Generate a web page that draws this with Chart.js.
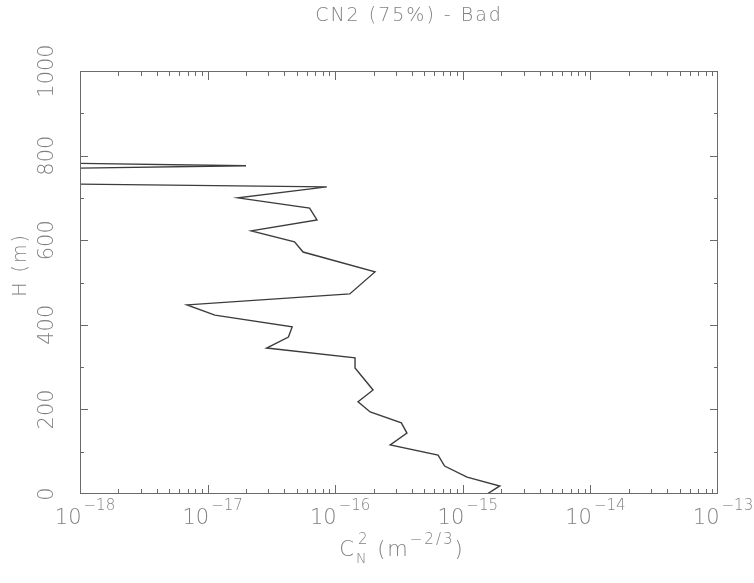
<!DOCTYPE html>
<html>
<head>
<meta charset="utf-8">
<style>
  html, body { margin: 0; padding: 0; background: #fff; }
  #wrap { width: 754px; height: 583px; }
</style>
<script src="https://cdn.jsdelivr.net/npm/chart.js@4"></script>
</head>
<body>
<div id="wrap"><canvas id="cn2Chart" width="754" height="583"></canvas></div>
<script>
// Profile (height in m, Cn2 in m^-2/3)
const heights = [0, 19, 40, 66, 92, 116, 144, 168, 194, 218, 246, 298, 322, 345, 371, 395,
  423, 447, 473, 525, 572, 596, 622, 648, 676, 700, 726, 736, 766, 776, 786];
const cn2Values = [1.55e-15, 1.95e-15, 1.08e-15, 7.2e-16, 6.4e-16, 2.7e-16, 3.65e-16, 3.3e-16,
  1.88e-16, 1.51e-16, 1.98e-16, 1.43e-16, 1.43e-16, 2.9e-17, 4.3e-17, 4.6e-17,
  1.14e-17, 6.9e-18, 1.3e-16, 2.05e-16, 5.6e-17, 4.8e-17, 2.2e-17, 7.2e-17,
  6.3e-17, 1.73e-17, 8.6e-17, 1e-19, 1e-19, 2e-17, 1e-19];

// Axis ticks
const xTickExps = [-18, -17, -16, -15, -14, -13];
const yTicks = [0, 200, 400, 600, 800, 1000];
const yMinorTicks = [100, 300, 500, 700, 900];

const chartTitle = 'CN2 (75%) - Bad';
const yTitle = 'H (m)';

const textColor = '#808080';
const frameColor = '#6a6a6a';
const FONT = '"DejaVu Sans"';

function setFont(c, size, spacing) {
  c.font = '200 ' + size + 'px ' + FONT;
  c.letterSpacing = (spacing || 0) + 'px';
}

// Frame, ticks and labels drawn on the library's scales
const axesPlugin = {
  id: 'axesPlugin',
  afterDraw(chart) {
    const c = chart.ctx;
    const a = chart.chartArea;
    const xs = chart.scales.x;
    const ys = chart.scales.y;
    c.save();
    c.strokeStyle = frameColor;
    c.lineWidth = 1;
    c.strokeRect(a.left + 0.5, a.top + 0.5, a.right - a.left - 1, a.bottom - a.top - 1);

    // x ticks (log decades + minors), edges are covered by the frame
    c.beginPath();
    xTickExps.forEach((e, i) => {
      const px = Math.round(xs.getPixelForValue(Math.pow(10, e))) + 0.5;
      if (i > 0 && i < xTickExps.length - 1) {
        c.moveTo(px, a.bottom); c.lineTo(px, a.bottom - 9);
        c.moveTo(px, a.top); c.lineTo(px, a.top + 9);
      }
      if (i < xTickExps.length - 1) {
        for (let k = 2; k <= 9; k++) {
          const mx = Math.round(xs.getPixelForValue(k * Math.pow(10, e))) + 0.5;
          c.moveTo(mx, a.bottom); c.lineTo(mx, a.bottom - 5);
          c.moveTo(mx, a.top); c.lineTo(mx, a.top + 5);
        }
      }
    });
    yTicks.slice(1, -1).forEach(v => {
      const py = Math.round(ys.getPixelForValue(v)) + 0.5;
      c.moveTo(a.left, py); c.lineTo(a.left + 8, py);
      c.moveTo(a.right, py); c.lineTo(a.right - 8, py);
    });
    yMinorTicks.forEach(v => {
      const py = Math.round(ys.getPixelForValue(v)) + 0.5;
      c.moveTo(a.left, py); c.lineTo(a.left + 4, py);
      c.moveTo(a.right, py); c.lineTo(a.right - 4, py);
    });
    c.stroke();

    c.fillStyle = textColor;
    c.textBaseline = 'alphabetic';

    // x tick labels: 10^e
    xTickExps.forEach(e => {
      const px = xs.getPixelForValue(Math.pow(10, e));
      const base = '10';
      const sup = '\u2212' + Math.abs(e);
      setFont(c, 21, 0);
      const wb = c.measureText(base).width;
      setFont(c, 15, 0);
      const ws = c.measureText(sup).width;
      const x0 = px + 5 - (wb + ws + 2) / 2;
      c.textAlign = 'left';
      setFont(c, 21, 0);
      c.fillText(base, x0, 524);
      setFont(c, 15, 0);
      c.fillText(sup, x0 + wb + 2, 510);
    });

    // y tick labels, rotated
    setFont(c, 21, 0);
    c.textAlign = 'center';
    yTicks.forEach(v => {
      const py = ys.getPixelForValue(v);
      c.save();
      c.translate(53, py);
      c.rotate(-Math.PI / 2);
      c.fillText(String(v), 0, 0);
      c.restore();
    });

    // y title
    c.save();
    setFont(c, 19, 2);
    c.translate(26, 265);
    c.rotate(-Math.PI / 2);
    c.fillText(yTitle, 0, 0);
    c.restore();

    // title
    setFont(c, 19, 2);
    c.textAlign = 'center';
    c.fillText(chartTitle, 409, 21);

    // x title: C_N^2 (m^-2/3)
    const parts = [
      { t: 'C', size: 21, dy: 0 },
      { t: 'N', size: 14, dy: 7 },
      { t: '2', size: 15, dy: -12, back: true },
      { t: ' (m', size: 21, dy: 0 },
      { t: '\u22122/3', size: 15, dy: -12 },
      { t: ')', size: 21, dy: 0 }
    ];
    const sp = 2;
    const widths = parts.map(p => {
      setFont(c, p.size, sp);
      return c.measureText(p.t).width;
    });
    let total = 0;
    parts.forEach((p, i) => { if (!p.back) total += widths[i]; });
    let x = 402 - total / 2;
    let lastX = x;
    c.textAlign = 'left';
    parts.forEach((p, i) => {
      setFont(c, p.size, sp);
      if (p.back) {
        c.fillText(p.t, lastX + 2, 556 + p.dy);
        return;
      }
      lastX = x;
      c.fillText(p.t, x, 556 + p.dy);
      x += widths[i];
    });
    c.restore();
  }
};

new Chart(document.getElementById('cn2Chart').getContext('2d'), {
  type: 'scatter',
  data: {
    datasets: [{
      data: cn2Values.map((v, i) => ({ x: v, y: heights[i] })),
      showLine: true,
      borderColor: '#3c3c3c',
      borderWidth: 1.4,
      pointRadius: 0,
      tension: 0
    }]
  },
  options: {
    responsive: false,
    animation: false,
    layout: { padding: { left: 80, right: 36, top: 71, bottom: 89 } },
    plugins: { legend: { display: false }, tooltip: { enabled: false } },
    scales: {
      x: { type: 'logarithmic', min: 1e-18, max: 1e-13, display: false },
      y: { type: 'linear', min: 0, max: 1000, display: false }
    }
  },
  plugins: [axesPlugin]
});
</script>
</body>
</html>
